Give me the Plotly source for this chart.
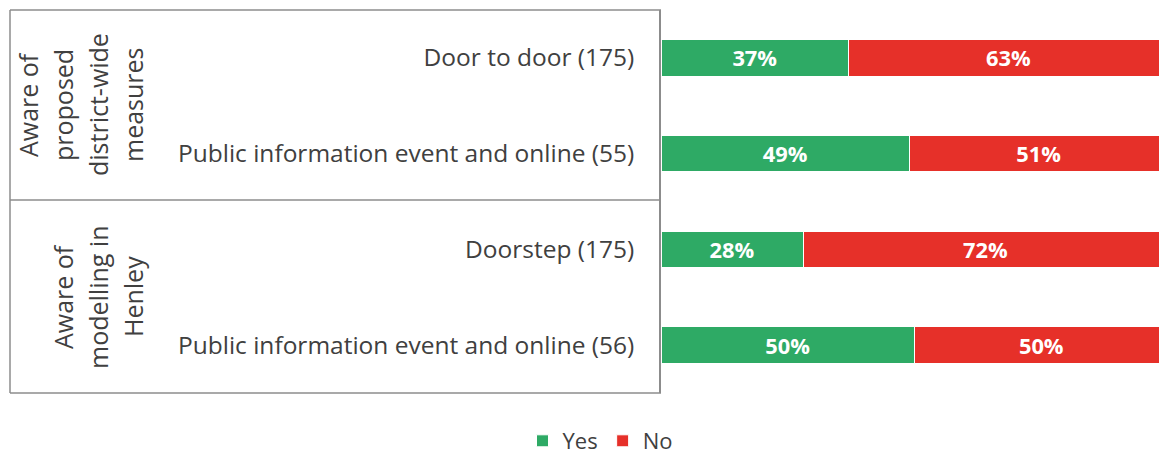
import plotly.graph_objects as go

categories = ["Door to door (175)", "Public information event and online (55)",
              "Doorstep (175)", "Public information event and online (56)"]
yes_values = [37, 49, 28, 50]
no_values = [63, 51, 72, 50]
group_labels = [["Aware of", "proposed", "district-wide", "measures"],
                ["Aware of", "modelling in", "Henley"]]
series_names = ["Yes", "No"]

W, H = 1159, 457
L, R, T, B = 661, 0, 10, 64
pw = W - L - R
ph = H - T - B

def px2paper_x(px):
    return (px - L) / pw

def py2paper_y(py):
    return (H - B - py) / ph

GREEN = "#2EAA65"
RED = "#E63029"
FONT = "Open Sans"
TXT = "#404040"
LINE = "#8C8C8C"

fig = go.Figure()
for name, vals, col in [(series_names[0], yes_values, GREEN), (series_names[1], no_values, RED)]:
    fig.add_trace(go.Bar(
        y=categories, x=vals, name=name, orientation="h",
        marker=dict(color=col, line=dict(color="white", width=1)),
        width=0.38,
        text=[f"{v}%" for v in vals], textposition="inside",
        insidetextanchor="middle",
        textfont=dict(family=FONT, size=23, color="white", weight="bold"),
        hoverinfo="skip",
    ))

fig.update_layout(
    autosize=False,
    barmode="stack",
    width=W, height=H,
    margin=dict(l=L, r=R, t=T, b=B, pad=0, autoexpand=False),
    plot_bgcolor="white", paper_bgcolor="white",
    font=dict(family=FONT, color=TXT),
    showlegend=True,
    legend=dict(orientation="h", x=px2paper_x(600), xanchor="center",
                y=py2paper_y(441), yanchor="middle",
                font=dict(family=FONT, size=22, color=TXT),
                itemwidth=30, traceorder="normal", tracegroupgap=0),
    xaxis=dict(range=[0, 98.2], showgrid=False, showticklabels=False, zeroline=False,
               showline=False, fixedrange=True),
    yaxis=dict(categoryorder="array", categoryarray=categories[::-1],
               showgrid=False, showline=True, linecolor=LINE, linewidth=1.5,
               ticks="", ticklabelstandoff=20, fixedrange=True,
               tickfont=dict(family=FONT, size=24.5, color=TXT)),
    bargap=0.6,
)

shapes = []
for py in [10, 200, 393]:
    shapes.append(dict(type="line", xref="paper", yref="paper",
                       x0=px2paper_x(10), x1=0, y0=py2paper_y(py), y1=py2paper_y(py),
                       line=dict(color=LINE, width=1.5)))
shapes.append(dict(type="line", xref="paper", yref="paper",
                   x0=px2paper_x(10), x1=px2paper_x(10), y0=py2paper_y(10), y1=py2paper_y(393),
                   line=dict(color=LINE, width=1.5)))
fig.update_layout(shapes=shapes)

annotations = []
centers = [105, 297]
for lines, cy in zip(group_labels, centers):
    n = len(lines)
    for i, t in enumerate(lines):
        cx = 133 - 35 * (n - 1 - i)
        annotations.append(dict(text=t, xref="paper", yref="paper",
                                x=px2paper_x(cx), y=py2paper_y(cy),
                                xanchor="center", yanchor="middle",
                                textangle=-90, showarrow=False,
                                font=dict(family=FONT, size=25, color=TXT)))
fig.update_layout(annotations=annotations)

fig.write_html("out.html", config={"responsive": False, "displayModeBar": False},
               post_script="document.body.style.margin='0px';")
